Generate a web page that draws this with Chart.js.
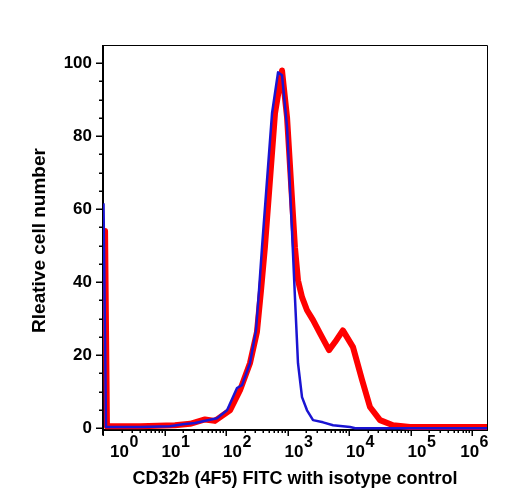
<!DOCTYPE html>
<html>
<head>
<meta charset="utf-8">
<script src="https://cdn.jsdelivr.net/npm/chart.js@4.4.1/dist/chart.umd.min.js"></script>
<style>
  html, body { margin: 0; padding: 0; background: #fff; }
</style>
</head>
<body>
<canvas id="myChart" width="508" height="500"></canvas>
<script>
// isotype control (blue)
const isoX = [1.02, 1.12, 4, 12.3, 20, 31.4, 42.3, 71.4, 104, 151, 182, 245, 307, 344, 385, 560, 701, 814, 982, 1183, 1320, 1480, 1720, 2075, 2600, 3780, 5500, 10400, 12600, 1750000];
const isoY = [61.6, 0.3, 0.3, 0.5, 1.1, 1.4, 1.9, 2.7, 4.9, 11, 11.8, 17.8, 26.8, 37.8, 49.6, 86.3, 97.5, 96.7, 82.5, 54, 35.9, 17.8, 8.5, 4.9, 2.2, 1.6, 0.8, 0.3, 0, 0];

// CD32b (4F5) FITC (red)
const cd32X = [1.08, 1.16, 4, 14.8, 26, 37.8, 45.5, 66, 116, 169, 245, 318, 371, 429, 626, 814, 982, 1320, 1480, 1720, 2075, 2600, 3375, 4730, 5920, 7940, 11600, 16300, 21900, 31900, 51900, 98000, 1750000];
const cd32Y = [54, 0.5, 0.5, 0.8, 1.2, 2.0, 2.4, 2.0, 4.9, 10.4, 17.8, 26.3, 37.8, 49.6, 86.3, 98, 85.2, 49.6, 40.5, 35.9, 32.3, 29.6, 26, 21.4, 23.6, 26.8, 22.2, 13.2, 5.8, 2.2, 0.8, 0.3, 0.3];

const yTicks = [0, 20, 40, 60, 80, 100];
const xDecades = [0, 1, 2, 3, 4, 5, 6];
const xTitle = 'CD32b (4F5) FITC with isotype control';
const yTitle = 'Rleative cell number';

const FONT = '"Liberation Sans", Arial, sans-serif';

function toPoints(xs, ys) {
  return xs.map((x, i) => ({ x: x, y: ys[i] }));
}

const axesPlugin = {
  id: 'axesPlugin',
  beforeDatasetsDraw(chart) {
    const c = chart.ctx;
    const a = chart.chartArea;
    const xs = chart.scales.x;
    const ys = chart.scales.y;
    c.save();
    c.strokeStyle = '#000';
    // frame top / right
    c.lineWidth = 1;
    c.beginPath();
    c.moveTo(a.left, a.top + 0.5);
    c.lineTo(a.right + 0.5, a.top + 0.5);
    c.lineTo(a.right + 0.5, a.bottom);
    c.stroke();
    // left and bottom axes
    c.lineWidth = 2;
    c.beginPath();
    c.moveTo(a.left, a.top);
    c.lineTo(a.left, a.bottom + 5);
    c.moveTo(a.left - 1, a.bottom);
    c.lineTo(a.right + 1, a.bottom);
    c.stroke();

    // y ticks
    c.lineWidth = 1.5;
    c.beginPath();
    for (let v = 0; v <= 100; v += 5) {
      const py = Math.round(ys.getPixelForValue(v)) + 0.25;
      const len = (v % 20 === 0) ? 7 : 4;
      c.moveTo(a.left, py);
      c.lineTo(a.left - len, py);
    }
    // x ticks
    const xmax = xs.max;
    xDecades.forEach(d => {
      for (let m = 1; m <= 9; m++) {
        const v = m * Math.pow(10, d);
        if (v > xmax) break;
        const px = Math.round(xs.getPixelForValue(v)) + 0.25;
        const len = (m === 1) ? 6 : 3;
        c.moveTo(px, a.bottom);
        c.lineTo(px, a.bottom + len);
      }
    });
    c.stroke();

    // y tick labels
    c.fillStyle = '#000';
    c.font = 'bold 17px ' + FONT;
    c.textAlign = 'right';
    c.textBaseline = 'middle';
    yTicks.forEach(v => {
      c.fillText(String(v), a.left - 11, ys.getPixelForValue(v));
    });

    // x tick labels 10^n
    c.textAlign = 'left';
    c.textBaseline = 'alphabetic';
    xDecades.forEach(d => {
      const px = xs.getPixelForValue(Math.pow(10, d));
      c.font = 'bold 17px ' + FONT;
      const wBase = c.measureText('10').width;
      c.font = 'bold 16px ' + FONT;
      const wSup = c.measureText(String(d)).width;
      let left = px - 3;
      left = Math.max(left, a.left + 7);
      left = Math.min(left, a.right + 1 - wBase - wSup);
      c.font = 'bold 17px ' + FONT;
      c.fillText('10', left, 457);
      c.font = 'bold 16px ' + FONT;
      c.fillText(String(d), left + wBase + 0.5, 447);
    });

    // axis titles
    c.font = 'bold 18px ' + FONT;
    c.textAlign = 'center';
    c.fillText(xTitle, (a.left + a.right) / 2, 484);
    c.save();
    c.translate(45, (a.top + a.bottom) / 2 + 3);
    c.rotate(-Math.PI / 2);
    c.font = 'bold 19px ' + FONT;
    c.fillText(yTitle, 0, 0);
    c.restore();
    c.restore();
  }
};

const ctx = document.getElementById('myChart');

new Chart(ctx, {
  type: 'scatter',
  data: {
    datasets: [
      {
        label: 'Isotype control',
        data: toPoints(isoX, isoY),
        showLine: true,
        borderColor: '#1a14d2',
        borderWidth: 2.5,
        pointRadius: 0,
        tension: 0,
        borderJoinStyle: 'round',
        order: 0
      },
      {
        label: 'CD32b (4F5) FITC',
        data: toPoints(cd32X, cd32Y),
        showLine: true,
        borderColor: '#ff0000',
        borderWidth: 6,
        pointRadius: 0,
        tension: 0,
        borderJoinStyle: 'round',
        borderCapStyle: 'round',
        order: 1
      }
    ]
  },
  options: {
    responsive: false,
    animation: false,
    layout: { padding: { left: 103, top: 45, right: 21, bottom: 70 } },
    plugins: { legend: { display: false }, tooltip: { enabled: false } },
    scales: {
      x: { type: 'logarithmic', min: 1, max: 1750000, display: false },
      y: { min: -0.5, max: 105, display: false }
    }
  },
  plugins: [axesPlugin]
});
</script>
</body>
</html>
